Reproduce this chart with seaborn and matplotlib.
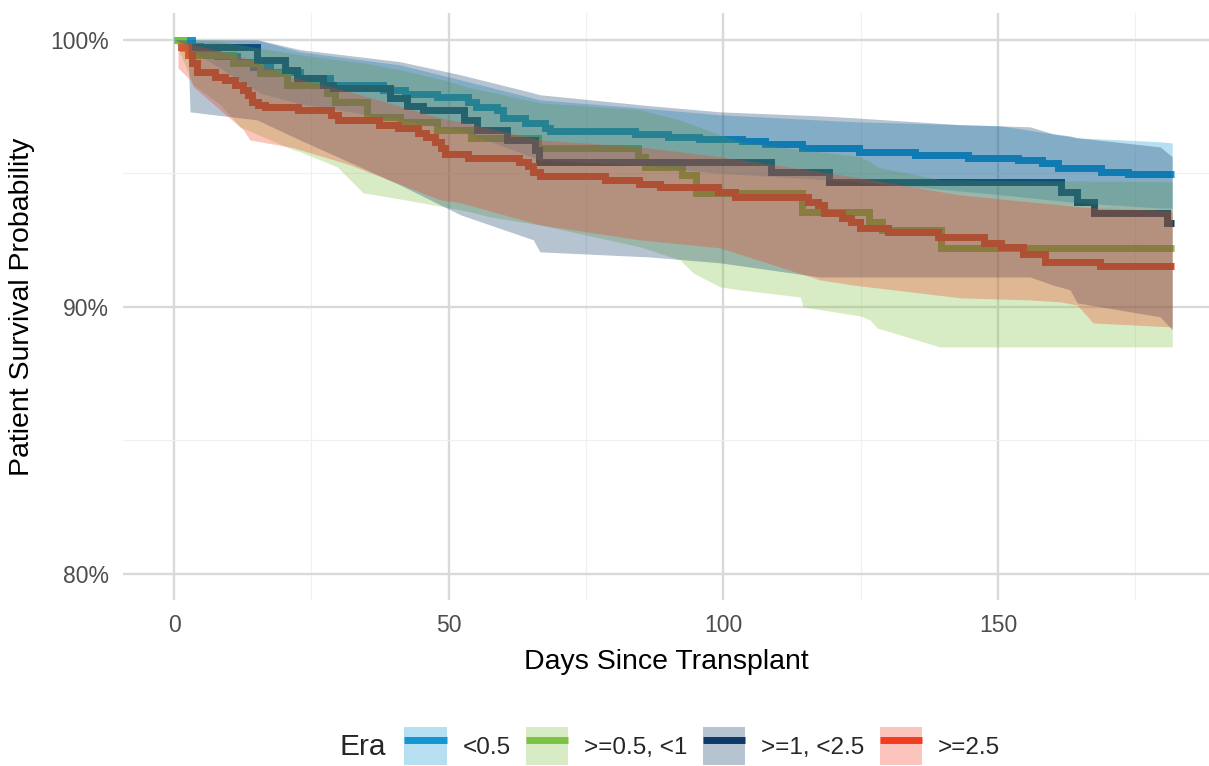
import matplotlib
matplotlib.use("Agg")
import matplotlib.pyplot as plt
import numpy as np
import pandas as pd
import seaborn as sns
from matplotlib.lines import Line2D
from matplotlib.patches import Patch
from matplotlib.ticker import PercentFormatter, MultipleLocator

# ---- groups -------------------------------------------------------------
eras = ["<0.5", ">=0.5, <1", ">=1, <2.5", ">=2.5"]
era_colors = ["#1296D4", "#7DC142", "#0D3A66", "#F23D21"]

# ---- Kaplan-Meier step estimates (days, survival in %) -------------------
days_a = [0, 3.3, 4.7, 7.8, 11.5, 14.4, 17.5, 22.9, 28.4, 38.0, 42.1, 47.9, 53.5, 55.0, 58.8,
          59.9, 63.9, 67.5, 68.4, 83.9, 89.9, 95.6, 103.4, 107.6, 114.3, 124.7, 134.9, 144.5,
          153.6, 158.0, 160.9, 168.7, 173.7, 182]
surv_a = [100, 99.78, 99.55, 99.40, 99.18, 98.99, 98.80, 98.58, 98.31, 98.13, 97.98, 97.87, 97.68,
          97.49, 97.38, 97.08, 96.89, 96.70, 96.59, 96.48, 96.37, 96.29, 96.22, 96.10, 95.96, 95.81,
          95.69, 95.58, 95.51, 95.39, 95.21, 95.06, 94.98, 94.98]

days_b = [0, 1.6, 3.5, 10.7, 15.7, 20.6, 27.9, 29.3, 35.1, 41.1, 47.9, 54.1, 66.3, 84.5, 85.7,
          92.5, 95.0, 114.3, 126.5, 128.9, 139.6, 182]
surv_b = [100, 99.70, 99.44, 99.14, 98.76, 98.31, 98.01, 97.68, 97.12, 96.93, 96.63, 96.33, 95.96,
          95.62, 95.24, 94.94, 94.27, 93.56, 93.18, 92.88, 92.21, 92.21]

days_c = [0.7, 15.1, 20.2, 22.4, 27.1, 28.9, 39.3, 42.4, 45.3, 52.8, 55.2, 60.6, 65.7, 66.4,
          108.7, 119.2, 161.5, 164.4, 167.5, 180.8, 182]
surv_c = [99.74, 99.25, 98.88, 98.58, 98.31, 98.20, 97.83, 97.53, 97.38, 97.00, 96.63, 96.25,
          95.88, 95.43, 95.06, 94.68, 94.31, 93.93, 93.52, 93.15, 93.15]

days_d = [0.7, 2.5, 3.3, 4.2, 7.5, 9.3, 11.1, 12.6, 13.5, 14.2, 15.3, 16.6, 22.6, 28.6, 29.9,
          37.3, 40.8, 44.4, 45.9, 47.5, 48.6, 49.3, 53.5, 62.8, 64.4, 65.4, 66.6, 78.5, 84.6, 88.5,
          99.0, 102.1, 115.4, 117.2, 118.3, 121.6, 123.2, 124.9, 130.0, 139.1, 147.5, 150.5, 154.5,
          158.6, 168.6, 182]
surv_d = [99.74, 99.44, 99.14, 98.80, 98.61, 98.50, 98.31, 98.13, 97.94, 97.68, 97.57, 97.49,
          97.38, 97.19, 97.00, 96.82, 96.70, 96.52, 96.37, 96.18, 95.96, 95.73, 95.58, 95.43, 95.28,
          95.06, 94.91, 94.76, 94.61, 94.49, 94.31, 94.12, 93.93, 93.82, 93.52, 93.33, 93.18, 92.96,
          92.81, 92.62, 92.40, 92.25, 91.99, 91.69, 91.54, 91.54]

# ---- 95% confidence bands (days, lower %, upper %) ------------------------
ci_days_a = [0, 15.7, 22.9, 41.1, 52.1, 66.6, 84.8, 99.4, 123.6, 150.4, 164.4, 179.5, 181.7]
ci_lo_a = [100, 98.0, 97.6, 97.0, 96.6, 95.5, 95.3, 95.0, 94.7, 94.2, 93.9, 93.7, 93.7]
ci_hi_a = [100, 99.96, 99.55, 99.06, 98.50, 97.75, 97.45, 97.19, 96.93, 96.78, 96.33, 96.18, 96.14]

ci_days_b = [0, 1.6, 3.5, 8.4, 12.0, 21.7, 22.9, 29.7, 34.4, 41.1, 49.0, 53.9, 57.5, 66.6, 84.8,
             92.1, 94.5, 99.4, 103.0, 114.0, 114.5, 124.9, 126.7, 128.0, 128.5, 139.4, 181.7]
ci_lo_b = [100, 99.25, 98.31, 97.57, 96.74, 95.88, 95.81, 95.24, 94.27, 94.04, 93.75, 93.56, 93.37,
           93.07, 92.25, 91.76, 91.27, 90.75, 90.64, 90.37, 90.00, 89.66, 89.51, 89.21, 89.18,
           88.50, 88.50]
ci_hi_b = [100, 100, 99.96, 99.93, 99.81, 99.48, 99.44, 99.25, 99.14, 98.88, 98.50, 98.20, 98.05,
           97.64, 97.38, 97.00, 96.82, 96.44, 96.18, 95.88, 95.88, 95.62, 95.43, 95.24, 95.21,
           94.76, 94.68]

ci_days_c = [0, 2.5, 2.9, 15.1, 22.9, 41.1, 52.1, 65.4, 66.6, 86.6, 99.4, 117.6, 123.6, 143.1,
             155.8, 160.0, 163.1, 164.4, 179.5, 181.7]
ci_lo_c = [100, 99.81, 97.30, 97.00, 96.25, 94.57, 93.45, 92.51, 92.06, 91.87, 91.65, 91.12, 91.12,
           91.12, 91.12, 90.82, 90.64, 90.15, 89.63, 89.14]
ci_hi_c = [100, 100, 100, 100, 99.63, 99.18, 98.69, 98.01, 97.94, 97.53, 97.30, 97.15, 97.08,
           96.82, 96.74, 96.48, 96.40, 96.33, 95.99, 95.62]

ci_days_d = [0.7, 2.9, 3.5, 12.6, 13.8, 21.7, 32.0, 48.4, 52.1, 66.6, 84.8, 99.4, 117.6, 123.6,
             143.1, 155.8, 161.3, 164.4, 167.3, 181.7]
ci_lo_d = [98.95, 98.50, 98.24, 96.63, 96.25, 95.96, 95.32, 94.01, 93.90, 93.07, 92.51, 92.21,
           91.01, 90.82, 90.34, 90.26, 90.19, 90.07, 89.40, 89.25]
ci_hi_d = [100, 99.85, 99.81, 99.36, 99.25, 98.58, 98.05, 97.08, 96.93, 96.25, 95.99, 95.62,
           95.06, 94.87, 94.19, 93.93, 93.82, 93.75, 93.71, 93.60]

x_ticks = [0, 50, 100, 150]
y_ticks = [80, 90, 100]

# ---- assemble long tables ---------------------------------------------------
curves = [(days_a, surv_a), (days_b, surv_b), (days_c, surv_c), (days_d, surv_d)]
bands = [(ci_days_a, ci_lo_a, ci_hi_a), (ci_days_b, ci_lo_b, ci_hi_b),
         (ci_days_c, ci_lo_c, ci_hi_c), (ci_days_d, ci_lo_d, ci_hi_d)]

km = pd.concat(
    [pd.DataFrame({"days": d, "surv": s, "Era": era}) for era, (d, s) in zip(eras, curves)],
    ignore_index=True,
)

# ---- style ------------------------------------------------------------------
sns.set_theme(style="whitegrid")
plt.rcParams["font.family"] = ["Liberation Sans", "DejaVu Sans"]

W, H = 1209, 766
LW = 5.0
fig = plt.figure(figsize=(W / 100, H / 100), dpi=100)
ax = fig.add_axes([123 / W, (H - 600) / H, (W - 123) / W, (600 - 13) / H])

palette = dict(zip(eras, era_colors))
sns.lineplot(
    data=km, x="days", y="surv", hue="Era", palette=palette, hue_order=eras,
    estimator=None, drawstyle="steps-post", lw=LW, legend=False, ax=ax,
    solid_joinstyle="miter", solid_capstyle="butt", zorder=2,
)

# confidence ribbons are laid over the curves
for color, (d, lo, hi) in zip(era_colors, bands):
    ax.fill_between(d, lo, hi, color=color, alpha=0.3, lw=0, zorder=3)

ax.set_xlim(-9.3, 188.4)
ax.set_ylim(79.03, 101.0)
ax.xaxis.set_major_locator(plt.FixedLocator(x_ticks))
ax.yaxis.set_major_locator(plt.FixedLocator(y_ticks))
ax.xaxis.set_minor_locator(MultipleLocator(25))
ax.yaxis.set_minor_locator(MultipleLocator(5))
ax.yaxis.set_major_formatter(PercentFormatter(xmax=100, decimals=0))

ax.set_axisbelow(True)
ax.grid(which="major", color="#D9D9D9", lw=1.7)
ax.grid(which="minor", color="#F0F0F0", lw=0.9)
for sp in ax.spines.values():
    sp.set_visible(False)

ax.tick_params(which="major", length=5, width=1.6, color="#333333",
               labelsize=16.5, labelcolor="#4D4D4D", pad=5)
ax.tick_params(which="minor", length=0)

ax.set_xlabel("Days Since Transplant", fontsize=20.5, color="black")
ax.set_ylabel("Patient Survival Probability", fontsize=20.5, color="black")
ax.xaxis.label.set_va("center")
ax.yaxis.label.set_va("center")
ax.xaxis.set_label_coords(0.5, -(662 - 600) / 587)
ax.yaxis.set_label_coords(-(123 - 22) / 1086, 0.5)

# ---- legend -----------------------------------------------------------------
handles = [
    (Patch(facecolor=c, alpha=0.3, lw=0), Line2D([], [], color=c, lw=LW, solid_capstyle="butt"))
    for c in era_colors
]
fig.text(340 / W, 1 - 747 / H, "Era", fontsize=21.5, ha="left", va="center")
fig.legend(
    handles, eras, loc="center left", bbox_to_anchor=(404 / W, 1 - 746 / H),
    ncol=4, frameon=False, fontsize=17.5, handlelength=1.75, handleheight=2.0,
    handletextpad=0.65, columnspacing=0.63, borderpad=0, borderaxespad=0,
)

fig.savefig("out.png", dpi=100)
